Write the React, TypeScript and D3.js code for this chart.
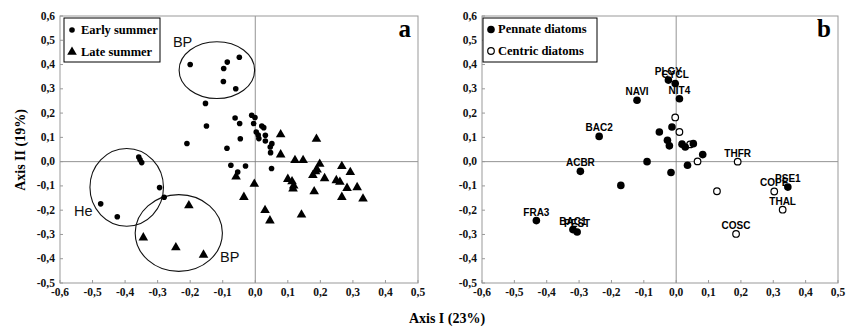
import React from 'react';
import * as d3 from 'd3';

// panel a : sample scores
const earlySummer: [number, number][] = [
  [-0.2, 0.40], [-0.086, 0.41], [-0.049, 0.43], [-0.097, 0.384], [-0.098, 0.33], [-0.06, 0.30],
  [-0.153, 0.24], [-0.15, 0.147], [-0.21, 0.075], [-0.062, 0.18], [-0.048, 0.157], [-0.046, 0.094],
  [-0.087, 0.055], [-0.011, 0.191], [-0.001, 0.182], [-0.005, 0.157], [0.02, 0.147], [0.026, 0.14],
  [0.003, 0.122], [0.009, 0.11], [0.031, 0.109], [0.011, 0.095], [0.031, 0.085], [0.051, 0.074],
  [0.046, 0.06], [0.047, 0.037], [-0.075, -0.015], [-0.03, -0.018], [-0.054, -0.043], [0.05, -0.028],
  [-0.358, 0.019], [-0.354, 0.008], [-0.349, -0.004], [-0.294, -0.107], [-0.28, -0.147],
  [-0.475, -0.174], [-0.424, -0.227],
];

const lateSummer: [number, number][] = [
  [-0.344, -0.309], [-0.244, -0.35], [-0.204, -0.177], [-0.159, -0.38], [0.078, 0.116], [0.188, 0.097],
  [0.078, 0.033], [0.122, 0.01], [0.147, 0.01], [0.198, -0.006], [0.19, -0.029], [0.185, -0.036],
  [0.177, -0.052], [0.213, -0.065], [0.266, -0.015], [0.292, -0.04], [0.249, -0.073], [0.26, -0.08],
  [0.282, -0.105], [0.313, -0.102], [0.331, -0.149], [0.266, -0.142], [0.181, -0.119], [0.1, -0.068],
  [0.113, -0.078], [0.118, -0.095], [0.116, -0.107], [0.142, -0.215], [0.03, -0.196], [0.045, -0.239],
  [-0.035, -0.142], [-0.003, -0.088], [-0.059, -0.058],
];

// group ellipses: cx, cy, rx, ry (data units), label, label x, label y
const groups: [number, number, number, number, string, number, number][] = [
  [-0.118, 0.377, 0.116, 0.117, 'BP', -0.253, 0.473],
  [-0.395, -0.106, 0.113, 0.16, 'He', -0.557, -0.222],
  [-0.235, -0.294, 0.134, 0.158, 'BP', -0.108, -0.415],
];

// panel b : species scores
const pennateNames = ['PLGY', 'CYCL', 'NIT4', 'NAVI', 'BAC2', 'ACBR', 'FRA3', 'BAC1', 'PEST', 'PSE1'];
const pennateLabeled: [number, number][] = [
  [-0.024, 0.336], [-0.003, 0.322], [0.01, 0.259], [-0.121, 0.253], [-0.238, 0.104],
  [-0.296, -0.04], [-0.432, -0.243], [-0.319, -0.28], [-0.306, -0.29], [0.345, -0.105],
];
const pennateOther: [number, number][] = [
  [-0.052, 0.122], [-0.013, 0.143], [-0.027, 0.088], [-0.021, 0.065], [0.018, 0.072], [0.028, 0.06],
  [0.053, 0.074], [0.082, 0.029], [-0.09, 0.0], [-0.016, -0.045], [0.035, -0.015], [-0.171, -0.098],
];
const centricNames = ['THFR', 'COPE', 'THAL', 'COSC'];
const centricLabeled: [number, number][] = [
  [0.19, 0.0], [0.303, -0.123], [0.329, -0.198], [0.185, -0.298],
];
const centricOther: [number, number][] = [
  [-0.003, 0.182], [0.01, 0.122], [0.066, 0.001], [0.126, -0.122], [0.043, 0.071],
];

const xTicks = [-0.6, -0.5, -0.4, -0.3, -0.2, -0.1, 0, 0.1, 0.2, 0.3, 0.4, 0.5];
const yTicks = [-0.5, -0.4, -0.3, -0.2, -0.1, 0, 0.1, 0.2, 0.3, 0.4, 0.5, 0.6];

const W = 856, H = 330;
const top = 16, bottom = 283;
const serif = '"Liberation Serif", "Times New Roman", serif';
const sans = '"Liberation Sans", Arial, sans-serif';
const fmt = (v: number) => v.toFixed(1).replace('.', ',');

const y = d3.scaleLinear().domain([-0.5, 0.6]).range([bottom, top]);
const tri = d3.symbol().type(d3.symbolTriangle).size(40)();

const Frame = ({ x, letter }: { x: d3.ScaleLinear<number, number>; letter: string }) => {
  const [x0, x1] = x.range();
  return (
    <g>
      <line x1={x(0)} x2={x(0)} y1={top} y2={bottom} stroke="#777" strokeWidth={0.8} />
      <line x1={x0} x2={x1} y1={y(0)} y2={y(0)} stroke="#777" strokeWidth={0.8} />
      <rect x={x0} y={top} width={x1 - x0} height={bottom - top} fill="none" stroke="#999" strokeWidth={1} />
      {xTicks.map(t => (
        <g key={'x' + t}>
          <line x1={x(t)} x2={x(t)} y1={bottom} y2={bottom - 3} stroke="#999" />
          <text x={x(t)} y={bottom + 13} textAnchor="middle" fontFamily={serif} fontWeight="bold" fontSize={11.5} fill="#111">{fmt(t)}</text>
        </g>
      ))}
      {yTicks.map(t => (
        <g key={'y' + t}>
          <line x1={x0} x2={x0 + 3} y1={y(t)} y2={y(t)} stroke="#999" />
          <text x={x0 - 5} y={y(t) + 3.5} textAnchor="end" fontFamily={serif} fontWeight="bold" fontSize={11.5} fill="#111">{fmt(t)}</text>
        </g>
      ))}
      <text x={x1 - 7} y={37} textAnchor="end" fontFamily={serif} fontWeight="bold" fontSize={25}>{letter}</text>
    </g>
  );
};

const App = () => {
  const xa = d3.scaleLinear().domain([-0.6, 0.5]).range([60, 418]);
  const xb = d3.scaleLinear().domain([-0.6, 0.5]).range([482, 838]);

  return (
    <svg width={W} height={H} style={{ position: 'absolute', left: 0, top: 0, background: '#fff' }}>
      {/* panel a */}
      <Frame x={xa} letter="a" />
      {groups.map((g, i) => (
        <g key={'g' + i}>
          <ellipse cx={xa(g[0])} cy={y(g[1])} rx={xa(g[2]) - xa(0)} ry={y(0) - y(g[3])} fill="none" stroke="#111" strokeWidth={1.1} />
          <text x={xa(g[5])} y={y(g[6])} fontFamily={sans} fontSize={14.5} fill="#111">{g[4]}</text>
        </g>
      ))}
      {earlySummer.map((d, i) => (
        <circle key={'e' + i} cx={xa(d[0])} cy={y(d[1])} r={2.8} fill="#000" />
      ))}
      {lateSummer.map((d, i) => (
        <path key={'l' + i} d={tri!} transform={`translate(${xa(d[0])},${y(d[1]) + 1})`} fill="#000" />
      ))}
      <rect x={64} y={18} width={96} height={44} fill="#fff" stroke="#000" strokeWidth={1} />
      <circle cx={72} cy={30} r={2.8} fill="#000" />
      <text x={81} y={34} fontFamily={serif} fontWeight="bold" fontSize={12.5}>Early summer</text>
      <path d={tri!} transform="translate(72,52)" fill="#000" />
      <text x={81} y={55.5} fontFamily={serif} fontWeight="bold" fontSize={12.5}>Late summer</text>

      {/* panel b */}
      <Frame x={xb} letter="b" />
      {centricOther.map((d, i) => (
        <circle key={'co' + i} cx={xb(d[0])} cy={y(d[1])} r={3.3} fill="#fff" stroke="#000" strokeWidth={1.2} />
      ))}
      {pennateOther.map((d, i) => (
        <circle key={'po' + i} cx={xb(d[0])} cy={y(d[1])} r={3.8} fill="#000" />
      ))}
      {centricLabeled.map((d, i) => (
        <g key={'cl' + i}>
          <circle cx={xb(d[0])} cy={y(d[1])} r={3.3} fill="#fff" stroke="#000" strokeWidth={1.2} />
          <text x={xb(d[0])} y={y(d[1]) - 5} textAnchor="middle" fontFamily={sans} fontWeight="bold" fontSize={10}>{centricNames[i]}</text>
        </g>
      ))}
      {pennateLabeled.map((d, i) => (
        <g key={'pl' + i}>
          <circle cx={xb(d[0])} cy={y(d[1])} r={3.8} fill="#000" />
          <text x={xb(d[0])} y={y(d[1]) - 5} textAnchor="middle" fontFamily={sans} fontWeight="bold" fontSize={10}>{pennateNames[i]}</text>
        </g>
      ))}
      <rect x={483} y={18} width={114} height={44} fill="#fff" stroke="#000" strokeWidth={1} />
      <circle cx={491} cy={29.5} r={3.8} fill="#000" />
      <text x={498} y={33} fontFamily={serif} fontWeight="bold" fontSize={12.5}>Pennate diatoms</text>
      <circle cx={491} cy={51} r={3.3} fill="#fff" stroke="#000" strokeWidth={1.2} />
      <text x={498} y={54.5} fontFamily={serif} fontWeight="bold" fontSize={12.5}>Centric diatoms</text>

      {/* axis titles */}
      <text x={447} y={323} textAnchor="middle" fontFamily={serif} fontWeight="bold" fontSize={14}>Axis I (23%)</text>
      <text transform="translate(25,150) rotate(-90)" textAnchor="middle" fontFamily={serif} fontWeight="bold" fontSize={14}>Axis II (19%)</text>
    </svg>
  );
};

export default App;
